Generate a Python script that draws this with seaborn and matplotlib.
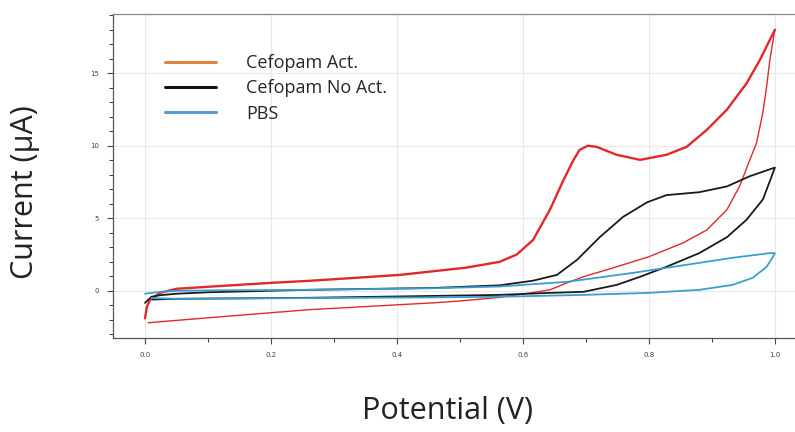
import numpy as np
import pandas as pd
import matplotlib
matplotlib.use("Agg")
import matplotlib.pyplot as plt
from matplotlib.lines import Line2D
from matplotlib.ticker import MultipleLocator
import seaborn as sns

# ---- data ----
act_fwd_x = [0, 0.003, 0.008, 0.024, 0.05, 0.1, 0.2, 0.26, 0.3, 0.405, 0.51, 0.563, 0.59, 0.616, 0.643,
             0.664, 0.68, 0.69, 0.703, 0.717, 0.733, 0.749, 0.786, 0.828, 0.86, 0.892, 0.924, 0.955,
             0.976, 1.0]
act_fwd_y = [-1.9, -1.1, -0.62, -0.14, 0.14, 0.28, 0.55, 0.69, 0.8, 1.1, 1.6, 2.0, 2.5, 3.5, 5.6,
             7.6, 9.0, 9.72, 10.0, 9.93, 9.65, 9.38, 9.03, 9.38, 9.93, 11.1, 12.5, 14.3,
             15.9, 18.0]
act_rev_x = [1.0, 0.992, 0.987, 0.981, 0.971, 0.96, 0.944, 0.924, 0.892, 0.854, 0.80, 0.749, 0.696,
             0.67, 0.643, 0.616, 0.563, 0.5, 0.457, 0.26, 0.1, 0.005]
act_rev_y = [18.0, 15.9, 14.1, 12.3, 10.2, 9.0, 7.2, 5.6, 4.2, 3.3, 2.35, 1.66, 0.97,
             0.55, 0.07, -0.12, -0.45, -0.7, -0.83, -1.3, -1.86, -2.2]

noact_fwd_x = [0, 0.01, 0.024, 0.05, 0.1, 0.26, 0.46, 0.563, 0.616, 0.654, 0.686, 0.722, 0.759,
               0.797, 0.828, 0.88, 0.924, 0.96, 1.0]
noact_fwd_y = [-0.83, -0.41, -0.3, -0.2, -0.1, 0.07, 0.2, 0.38, 0.7, 1.1, 2.14, 3.7, 5.1,
               6.1, 6.6, 6.8, 7.2, 7.9, 8.5]
noact_rev_x = [1.0, 0.995, 0.981, 0.955, 0.924, 0.88, 0.828, 0.786, 0.749, 0.696, 0.643, 0.563,
               0.46, 0.26, 0.05, 0.012]
noact_rev_y = [8.5, 7.9, 6.3, 4.9, 3.7, 2.6, 1.66, 0.97, 0.41, -0.07, -0.14, -0.28,
               -0.35, -0.48, -0.55, -0.6]

pbs_fwd_x = [0, 0.024, 0.05, 0.1, 0.26, 0.46, 0.563, 0.67, 0.775, 0.88, 0.933, 0.992, 1.0]
pbs_fwd_y = [-0.2, -0.07, 0.0, 0.03, 0.07, 0.18, 0.3, 0.62, 1.24, 1.93, 2.28, 2.6, 2.6]
pbs_rev_x = [1.0, 0.997, 0.987, 0.965, 0.933, 0.88, 0.80, 0.696, 0.563, 0.46, 0.26, 0.05, 0.01]
pbs_rev_y = [2.6, 2.35, 1.66, 0.9, 0.41, 0.07, -0.14, -0.28, -0.41, -0.45, -0.5, -0.55, -0.5]

series_names = ["Cefopam Act.", "Cefopam No Act.", "PBS"]
line_colors = ["#e3282b", "#1a1a1a", "#3a9fd0"]
legend_colors = ["#dd8443", "#111111", "#5a9ad0"]

x_ticks = [0.0, 0.2, 0.4, 0.6, 0.8, 1.0]
x_tick_labels = ["0.0", "0.2", "0.4", "0.6", "0.8", "1.0"]
y_ticks = [0, 5, 10, 15]
y_tick_labels = ["0", "5", "10", "15"]

# ---- build table ----
frames = []
for name, fx, fy, rx, ry, wf, wr in [
    (series_names[0], act_fwd_x, act_fwd_y, act_rev_x, act_rev_y, "thick", "thin"),
    (series_names[1], noact_fwd_x, noact_fwd_y, noact_rev_x, noact_rev_y, "normal", "normal"),
    (series_names[2], pbs_fwd_x, pbs_fwd_y, pbs_rev_x, pbs_rev_y, "normal", "normal"),
]:
    frames.append(pd.DataFrame({"Potential": list(fx) + list(rx),
                                "Current": list(fy) + list(ry),
                                "series": name,
                                "weight": [wf] * len(fx) + [wr] * len(rx)}))
df = pd.concat(frames, ignore_index=True)

sns.set_style("white")
fig = plt.figure(figsize=(7.95, 4.32), dpi=100)
ax = fig.add_axes([0.142, 0.218, 0.858, 0.750])

sns.lineplot(data=df, x="Potential", y="Current", hue="series", hue_order=series_names,
             palette=dict(zip(series_names, line_colors)),
             size="weight", sizes={"thick": 1.7, "thin": 1.0, "normal": 1.3},
             sort=False, estimator=None, legend=False, ax=ax)

ax.set_xlim(-0.051, 1.032)
ax.set_ylim(-3.24, 19.1)
ax.set_xticks(x_ticks)
ax.set_xticklabels(x_tick_labels)
ax.set_yticks(y_ticks)
ax.set_yticklabels(y_tick_labels)
ax.xaxis.set_minor_locator(MultipleLocator(0.1))
ax.yaxis.set_minor_locator(MultipleLocator(1))
ax.tick_params(axis="both", which="major", direction="out", length=4, width=0.8,
               labelsize=5, colors="#444444", pad=6)
ax.tick_params(axis="both", which="minor", direction="out", length=3, width=0.8, colors="#444444")
ax.tick_params(axis="x", which="both", bottom=True)
ax.tick_params(axis="y", which="both", left=True)
ax.grid(True, which="major", color="#e8e8e8", linewidth=0.8)
ax.set_axisbelow(True)
for side in ["left", "bottom"]:
    ax.spines[side].set_color("#555555")
    ax.spines[side].set_linewidth(0.9)
ax.spines["top"].set_color("#888888")
ax.spines["top"].set_linewidth(0.9)
ax.spines["right"].set_visible(False)
ax.set_xlabel("")
ax.set_ylabel("")

handles = [Line2D([0], [0], color=c, lw=2.2) for c in legend_colors]
ax.legend(handles, series_names, loc="upper left", bbox_to_anchor=(0.066, 0.898),
          borderaxespad=0, frameon=False, handlelength=2.8, handletextpad=1.7,
          labelspacing=0.4, prop={"family": "Open Sans", "size": 13})

fig.text(0.563, 0.03, "Potential (V)", ha="center", va="baseline", fontsize=22,
         family="Open Sans", color="#222222")
fig.text(0.042, 0.556, "Current (μA)", ha="center", va="baseline", rotation=90,
         rotation_mode="anchor", fontsize=22, family="Open Sans", color="#222222")

fig.savefig("out.png", dpi=100)
